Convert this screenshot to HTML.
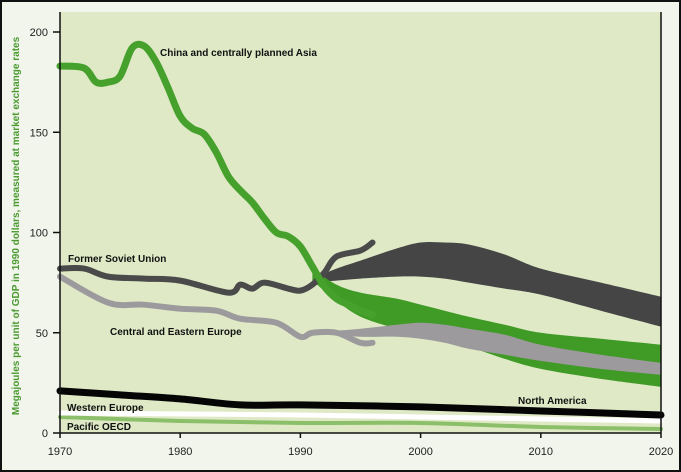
<!DOCTYPE html>
<html><head><meta charset="utf-8"><style>
html,body{margin:0;padding:0;background:#fff}
svg{display:block;font-family:"Liberation Sans",Arial,sans-serif}
</style></head><body>
<svg id="chart" width="681" height="472" viewBox="0 0 681 472">
<rect x="1" y="1" width="679" height="470" fill="#f1f5ec" stroke="#111" stroke-width="2"/>
<rect x="60" y="12" width="601" height="421" fill="#dfe9c6"/>
<g id="series"></g>
<g id="axes"></g>
<text transform="translate(19,226) rotate(-90)" text-anchor="middle" font-size="10" font-weight="bold" fill="#4a9a30">Megajoules per unit of GDP in 1990 dollars, measured at market exchange rates</text>
<g font-size="10" font-weight="bold" fill="#111">
<text x="160" y="56">China and centrally planned Asia</text>
<text x="68" y="262">Former Soviet Union</text>
<text x="110" y="335">Central and Eastern Europe</text>
<text x="518" y="404">North America</text>
<text x="67" y="411">Western Europe</text>
<text x="67" y="430">Pacific OECD</text>
</g>
</svg>
<script>
const xTicks=[1970,1980,1990,2000,2010,2020];
const yTicks=[0,50,100,150,200];
const chinaYears=[1970,1972,1973,1974,1975,1976,1977,1978,1979,1980,1981,1982,1983,1984,1985,1986,1987,1988,1989,1990,1991,1992,1993,1994,1995,1996];
const chinaVals=[183,182,175,175,178,192,193,185,172,158,152,149,140,128,121,115,107,100,98,93,83,73,67,64,61,59];
const fsuYears=[1970,1972,1974,1977,1980,1984,1985,1986,1987,1989,1990,1991,1992,1993,1995,1996];
const fsuVals=[82,82,78,77,76,70,74,72,75,72,71,74,80,88,91,95];
const ceeYears=[1970,1974,1977,1980,1983,1985,1988,1990,1991,1993,1995,1996];
const ceeVals=[78,65,64,62,61,57,55,48,50,50,45,45];
const naYears=[1970,1975,1980,1985,1990,2000,2010,2020];
const naVals=[21,19,17,14,14,13,11,9];
const weYears=[1970,1990,2000,2010,2020];
const weVals=[10,9,8,7,6];
const pacYears=[1970,1980,1990,2000,2010,2020];
const pacVals=[8,6,5,5,3,2];
const bandYears=[1991,1993,1995,1998,2000,2002,2004,2007,2010,2015,2020];
const fsuUpper=[77,82,86,92,95,95,94,89,82,75,68];
const fsuLower=[75,76,77,78,78,77,75,72,69,61,53];
const chinaUpper=[82,74,70,67,64,61,58,54,50,47,44];
const chinaLower=[76,66,58,52,49,46,43,37,32,27,23];
const ceeUpper=[50,51,52,54,55,54,52,49,44,39,35];
const ceeLower=[49,49,48,48,47,45,42,39,36,32,29];
const NS='http://www.w3.org/2000/svg';
const x=v=>60+(v-1970)*601/50;
const y=v=>433-v*2.005;
const gs=document.getElementById('series'),ga=document.getElementById('axes');
function mk(t,a,p){const e=document.createElementNS(NS,t);for(const k in a)e.setAttribute(k,a[k]);p.appendChild(e);return e;}
function smooth(pts,move){
 let d=(move?'M':'L')+pts[0][0]+','+pts[0][1];
 for(let i=0;i<pts.length-1;i++){
  const p0=pts[i-1]||pts[i],p1=pts[i],p2=pts[i+1],p3=pts[i+2]||p2;
  const c1=[p1[0]+(p2[0]-p0[0])/6,p1[1]+(p2[1]-p0[1])/6];
  const c2=[p2[0]-(p3[0]-p1[0])/6,p2[1]-(p3[1]-p1[1])/6];
  d+='C'+c1[0]+','+c1[1]+' '+c2[0]+','+c2[1]+' '+p2[0]+','+p2[1];
 }
 return d;
}
function band(up,lo,col,name){
 const top=bandYears.map((yr,i)=>[x(yr),y(up[i])]);
 const bot=bandYears.map((yr,i)=>[x(yr),y(lo[i])]).reverse();
 const e=mk('path',{d:smooth(top,true)+smooth(bot,false)+'Z',fill:col},gs);
 
 
}
function line(ys,vs,col,w,name){
 const e=mk('path',{d:smooth(ys.map((yr,i)=>[x(yr),y(vs[i])]),true),fill:'none',stroke:col,'stroke-width':w,'stroke-linejoin':'round','stroke-linecap':'round'},gs);
 
 
}
band(fsuUpper,fsuLower,'#454545','fsu-projection-band');
band(chinaUpper,chinaLower,'#3f9a26','china-projection-band');
band(ceeUpper,ceeLower,'#9c9a9c','cee-projection-band');
line(pacYears,pacVals,'#8cbf6a',4,'pacific-oecd-line');
line(weYears,weVals,'#ffffff',5,'western-europe-line');
line(naYears,naVals,'#050505',7,'north-america-line');
line(ceeYears,ceeVals,'#9c9a9c',6,'cee-line');
line(fsuYears,fsuVals,'#4a4a4a',6,'fsu-line');
line(chinaYears,chinaVals,'#46a02c',7,'china-line');
let e=mk('line',{x1:60,y1:12,x2:60,y2:433,stroke:'#111','stroke-width':1.5},ga);

e=mk('line',{x1:60,y1:433,x2:661,y2:433,stroke:'#111','stroke-width':1.5},ga);

e=mk('line',{x1:661,y1:12,x2:661,y2:433,stroke:'#111','stroke-width':1.5},ga);

xTicks.forEach(t=>{
 const tk=mk('line',{x1:x(t),y1:433,x2:x(t),y2:438,stroke:'#111','stroke-width':1.5},ga);
 
 const tx=mk('text',{x:x(t),y:455,'text-anchor':'middle','font-size':11,fill:'#222'},ga);
 
 tx.textContent=t;
});
yTicks.forEach(t=>{
 const tk=mk('line',{x1:53,y1:y(t),x2:60,y2:y(t),stroke:'#111','stroke-width':1.5},ga);
 
 const tx=mk('text',{x:48,y:y(t)+4,'text-anchor':'end','font-size':11,fill:'#222'},ga);
 
 tx.textContent=t;
});
</script>
</body></html>
